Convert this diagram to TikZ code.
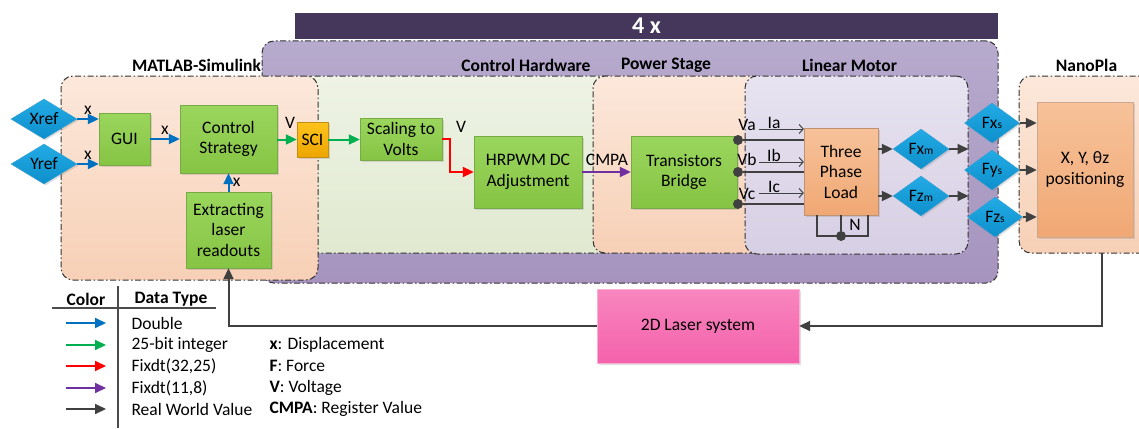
\documentclass[tikz,border=0pt]{standalone}
\usepackage{fontspec}
\setmainfont{Carlito}
\usetikzlibrary{arrows.meta,shapes.geometric,positioning,shadows}

\definecolor{cBlue}{HTML}{0070C0}
\definecolor{cGreen}{HTML}{00B050}
\definecolor{cRed}{HTML}{FF0000}
\definecolor{cPurple}{HTML}{7030A0}
\definecolor{cGray}{HTML}{404040}
\definecolor{grnTop}{HTML}{9AD65D}
\definecolor{grnBot}{HTML}{86C444}
\definecolor{grnEdge}{HTML}{76AB45}
\definecolor{dmTop}{HTML}{22ABE5}
\definecolor{dmBot}{HTML}{0E8FCB}
\definecolor{dmEdge}{HTML}{3A9FD2}
\definecolor{purpTop}{HTML}{B6AACD}
\definecolor{purpBot}{HTML}{A694BE}
\definecolor{barDark}{HTML}{45365B}
\definecolor{peachTop}{HTML}{FCE8DB}
\definecolor{peachBot}{HTML}{F7D0B6}
\definecolor{hwTop}{HTML}{EEF3E5}
\definecolor{hwBot}{HTML}{E1E9D0}
\definecolor{lmTop}{HTML}{E7E3F0}
\definecolor{lmBot}{HTML}{D7CFE4}
\definecolor{loadTop}{HTML}{F7C29A}
\definecolor{loadBot}{HTML}{F0A874}
\definecolor{loadEdge}{HTML}{BF9272}
\definecolor{laserTop}{HTML}{F886BE}
\definecolor{laserBot}{HTML}{F462AC}
\definecolor{sciTop}{HTML}{FCC31C}
\definecolor{sciBot}{HTML}{EEA600}
\definecolor{sciEdge}{HTML}{C48F10}

\tikzset{
  region/.style={draw=black!80, line width=1pt, rounded corners=12pt,
    dash pattern=on 6pt off 2.5pt on 1.5pt off 2.5pt, inner sep=0pt},
  grplabel/.style={font=\fontsize{17.5}{20.5}\selectfont\bfseries},
  blk/.style={draw=grnEdge, top color=grnTop, bottom color=grnBot,
    align=center, inner sep=0pt,
    drop shadow={opacity=0.25, shadow xshift=1.5pt, shadow yshift=-1.5pt}},
  refdia/.style={diamond, shape aspect=1.65, draw=dmEdge, top color=dmTop,
    bottom color=dmBot, inner sep=0pt,
    drop shadow={opacity=0.25, shadow xshift=1.5pt, shadow yshift=-1.5pt}},
  tdot/.style={circle, fill=cGray, inner sep=0pt, minimum size=10pt},
  dbl/.style={->, line width=2pt, draw=cBlue},
  int25/.style={->, line width=2pt, draw=cGreen},
  fix32/.style={->, line width=2pt, draw=cRed},
  fix11/.style={->, line width=2pt, draw=cPurple},
  real/.style={->, line width=2pt, draw=cGray},
  wire/.style={line width=1.8pt, draw=cGray},
  cur/.style={-{Straight Barb[length=4pt,width=9pt]}, line width=1pt, draw=cGray},
}
\newcommand{\lowsub}[1]{{\fontsize{11.5}{12}\selectfont #1}}

\begin{document}
\begin{tikzpicture}[x=1pt, y=-1pt,
    font=\fontsize{17.5}{20.5}\selectfont,
    >={Triangle[length=11pt,width=10pt]}]

\useasboundingbox (0,0) rectangle (1139,428);

% Repeated hardware (4 x)
\node[region, top color=purpTop, bottom color=purpBot,
      minimum width=736pt, minimum height=242pt] (rep) at (630,162) {};
\node[fill=barDark, text=white, font=\fontsize{24}{26}\selectfont\bfseries,
      minimum width=703pt, minimum height=26pt, inner sep=0pt] (rephead) at (646.5,26) {4 x};

% Group areas
\node[region, top color=hwTop, bottom color=hwBot,
      minimum width=320pt, minimum height=177pt] (ctrlhw) at (460,164.5) {};
\node[region, top color=peachTop, bottom color=peachBot,
      minimum width=257pt, minimum height=204pt] (mlab) at (189.5,178) {};
\node[region, top color=peachTop, bottom color=peachBot,
      minimum width=177pt, minimum height=177pt] (pstage) at (681.5,164.5) {};
\node[region, top color=lmTop, bottom color=lmBot,
      minimum width=223pt, minimum height=178pt] (lmotor) at (856.5,165) {};
\begin{scope}
    \clip (0,0) rectangle (1139,428);
    \node[region, top color=peachTop, bottom color=peachBot,
          minimum width=141pt, minimum height=177pt] (npla) at (1089.5,164.5) {};
\end{scope}

\node[grplabel] (labML) at (196.5,65) {MATLAB-Simulink};
\node[grplabel] (labHW) at (526,65) {Control Hardware};
\node[grplabel] (labPS) at (666,65) {Power Stage};
\node[grplabel] (labLM) at (849.5,65) {Linear Motor};
\node[grplabel] (labNP) at (1086.5,65) {NanoPla};

% MATLAB-Simulink
\node[refdia, minimum width=66pt, minimum height=40pt] (xref) at (44,119) {Xref};
\node[refdia, minimum width=66pt, minimum height=40pt] (yref) at (44,164) {Yref};
\node[blk, minimum width=51pt, minimum height=52pt] (gui) at (124.5,139) {GUI};
\node[blk, minimum width=97pt, minimum height=68pt] (ctrl) at (228.5,139) {Control\\Strategy};
\node[blk, minimum width=85pt, minimum height=76pt] (extr) at (228.5,230) {Extracting\\laser\\readouts};
\node[draw=sciEdge, top color=sciTop, bottom color=sciBot,
      minimum width=31pt, minimum height=35pt, inner sep=0pt,
      drop shadow={opacity=0.25, shadow xshift=1.5pt, shadow yshift=-1.5pt}] (sci) at (312.5,139.5) {SCI};

\draw[dbl] (xref.east) -- (xref.east -| gui.west) node[midway, above] {x};
\draw[dbl] (yref.east) -- (yref.east -| gui.west) node[midway, above] {x};
\draw[dbl] (gui.east) -- (gui.east -| ctrl.west) node[midway, above] {x};
\draw[dbl] (extr.north) -- (ctrl.south) node[midway, right] {x};
\draw[int25] (ctrl.east |- sci.west) -- (sci.west);
\node (lblV1) at (290,123) {V};

% Control hardware
\node[blk, minimum width=82pt, minimum height=42pt] (scal) at (401,139) {Scaling to\\Volts};
\node[blk, minimum width=108pt, minimum height=72pt] (hrpwm) at (528,172) {HRPWM DC\\Adjustment};
\draw[int25] (sci.east) -- (sci.east -| scal.west);
\draw[fix32] (scal.east) -- ++(8,0) |- (hrpwm.west);
\node (lblV2) at (461,127) {V};
\node (lblCMPA) at (607,160) {CMPA};

% Power stage
\node[blk, minimum width=106pt, minimum height=72pt] (trb) at (684,172) {Transistors\\Bridge};
\draw[fix11] (hrpwm.east) -- (trb.west);

% Linear motor
\node[draw=loadEdge, top color=loadTop, bottom color=loadBot, align=center, inner sep=0pt,
      minimum width=74pt, minimum height=87pt,
      drop shadow={opacity=0.25, shadow xshift=1.5pt, shadow yshift=-1.5pt}] (tpl) at (841,171.5) {Three\\Phase\\Load};
\node[tdot] (va) at (738,140) {};
\node[tdot] (vb) at (738,172) {};
\node[tdot] (vc) at (738,204) {};
\draw[wire] (va) -- (va -| tpl.west);
\draw[wire] (vb) -- (vb -| tpl.west);
\draw[wire] (vc) -- (vc -| tpl.west);
\node (lblVa) at (747,125) {Va};
\node (lblVb) at (747,159) {Vb};
\node (lblVc) at (747,194) {Vc};
\coordinate (ia) at (759,129);
\coordinate (ib) at (759,162);
\coordinate (ic) at (759,193);
\draw[cur] (ia) -- (ia -| tpl.west);
\draw[cur] (ib) -- (ib -| tpl.west);
\draw[cur] (ic) -- (ic -| tpl.west);
\node (lblIa) at (774,123) {Ia};
\node (lblIb) at (774,155) {Ib};
\node (lblIc) at (774,187) {Ic};

% neutral point
\coordinate (nl) at (817,236);
\coordinate (nr) at (868,236);
\node[tdot] (ndot) at (tpl.south |- nl) {};
\draw[line width=1.3pt, draw=cGray] (tpl.south -| nl) |- (nr) -- (tpl.south -| nr);
\draw[line width=1.3pt, draw=cGray] (tpl.south) -- (ndot);
\node (lblN) at (855,225) {N};

\node[refdia, minimum width=56pt, minimum height=40pt] (fxm) at (921,149) {Fx\lowsub{m}};
\node[refdia, minimum width=56pt, minimum height=40pt] (fzm) at (921,196) {Fz\lowsub{m}};
\draw[real] (tpl.east |- fxm) -- (fxm.west);
\draw[real] (tpl.east |- fzm) -- (fzm.west);
\draw[real] (fxm.east) -- (fxm.east -| lmotor.east);
\draw[real] (fzm.east) -- (fzm.east -| lmotor.east);

% NanoPla
\node[refdia, minimum width=55pt, minimum height=40pt] (fxs) at (992,123) {Fx\lowsub{s}};
\node[refdia, minimum width=55pt, minimum height=40pt] (fys) at (992,170) {Fy\lowsub{s}};
\node[refdia, minimum width=55pt, minimum height=40pt] (fzs) at (995,217) {Fz\lowsub{s}};
\node[draw=loadEdge!80, top color=loadTop, bottom color=loadBot, align=center, inner sep=0pt,
      minimum width=96pt, minimum height=135pt,
      drop shadow={opacity=0.25, shadow xshift=1.5pt, shadow yshift=-1.5pt}] (pos) at (1085,169.5) {X, Y, θz\\positioning};
\draw[real] (fxs.east) -- (fxs.east -| pos.west);
\draw[real] (fys.east) -- (fys.east -| pos.west);
\draw[real] (fzs.east) -- (fzs.east -| pos.west);

% Laser feedback loop
\node[draw=laserBot!50, top color=laserTop, bottom color=laserBot,
      minimum width=202pt, minimum height=74pt, inner sep=0pt,
      drop shadow={opacity=0.25, shadow xshift=1.5pt, shadow yshift=-1.5pt}] (laser) at (698,326) {2D Laser system};
\coordinate (fbR) at (1102,253);
\draw[real] (fbR) |- (laser.east);
\draw[real] (laser.west) -| (extr.south);

% Legend
\node[grplabel] (hCol) at (86,299) {Color};
\node[grplabel] (hType) at (171,299) {Data Type};
\coordinate (lgL) at (52,308);
\coordinate (lgR) at (216,308);
\coordinate (lgT) at (118,286);
\coordinate (lgB) at (118,428);
\draw[line width=1.3pt, draw=black!70] (lgL) -- (lgR);
\draw[line width=1.3pt, draw=black!70] (lgT) -- (lgB);

\coordinate (kDbl) at (66,323);
\coordinate (kInt) at (66,345);
\coordinate (kF32) at (66,366);
\coordinate (kF11) at (66,388);
\coordinate (kReal) at (66,409);
\draw[dbl] (kDbl) -- ++(40,0);
\draw[int25] (kInt) -- ++(40,0);
\draw[fix32] (kF32) -- ++(40,0);
\draw[fix11] (kF11) -- ++(40,0);
\draw[real] (kReal) -- ++(40,0);
\node[anchor=west] (tDbl) at (128,323) {Double};
\node[anchor=west] (tInt) at (128,345) {25-bit integer};
\node[anchor=west] (tF32) at (128,366) {Fixdt(32,25)};
\node[anchor=west] (tF11) at (128,388) {Fixdt(11,8)};
\node[anchor=west] (tReal) at (128,409) {Real World Value};

\node[anchor=west] (sX) at (266,345) {\textbf{x}: Displacement};
\node[anchor=west] (sF) at (266,366) {\textbf{F}: Force};
\node[anchor=west] (sV) at (266,388) {\textbf{V}: Voltage};
\node[anchor=west] (sC) at (266,409) {\textbf{CMPA}: Register Value};

\end{tikzpicture}
\end{document}
